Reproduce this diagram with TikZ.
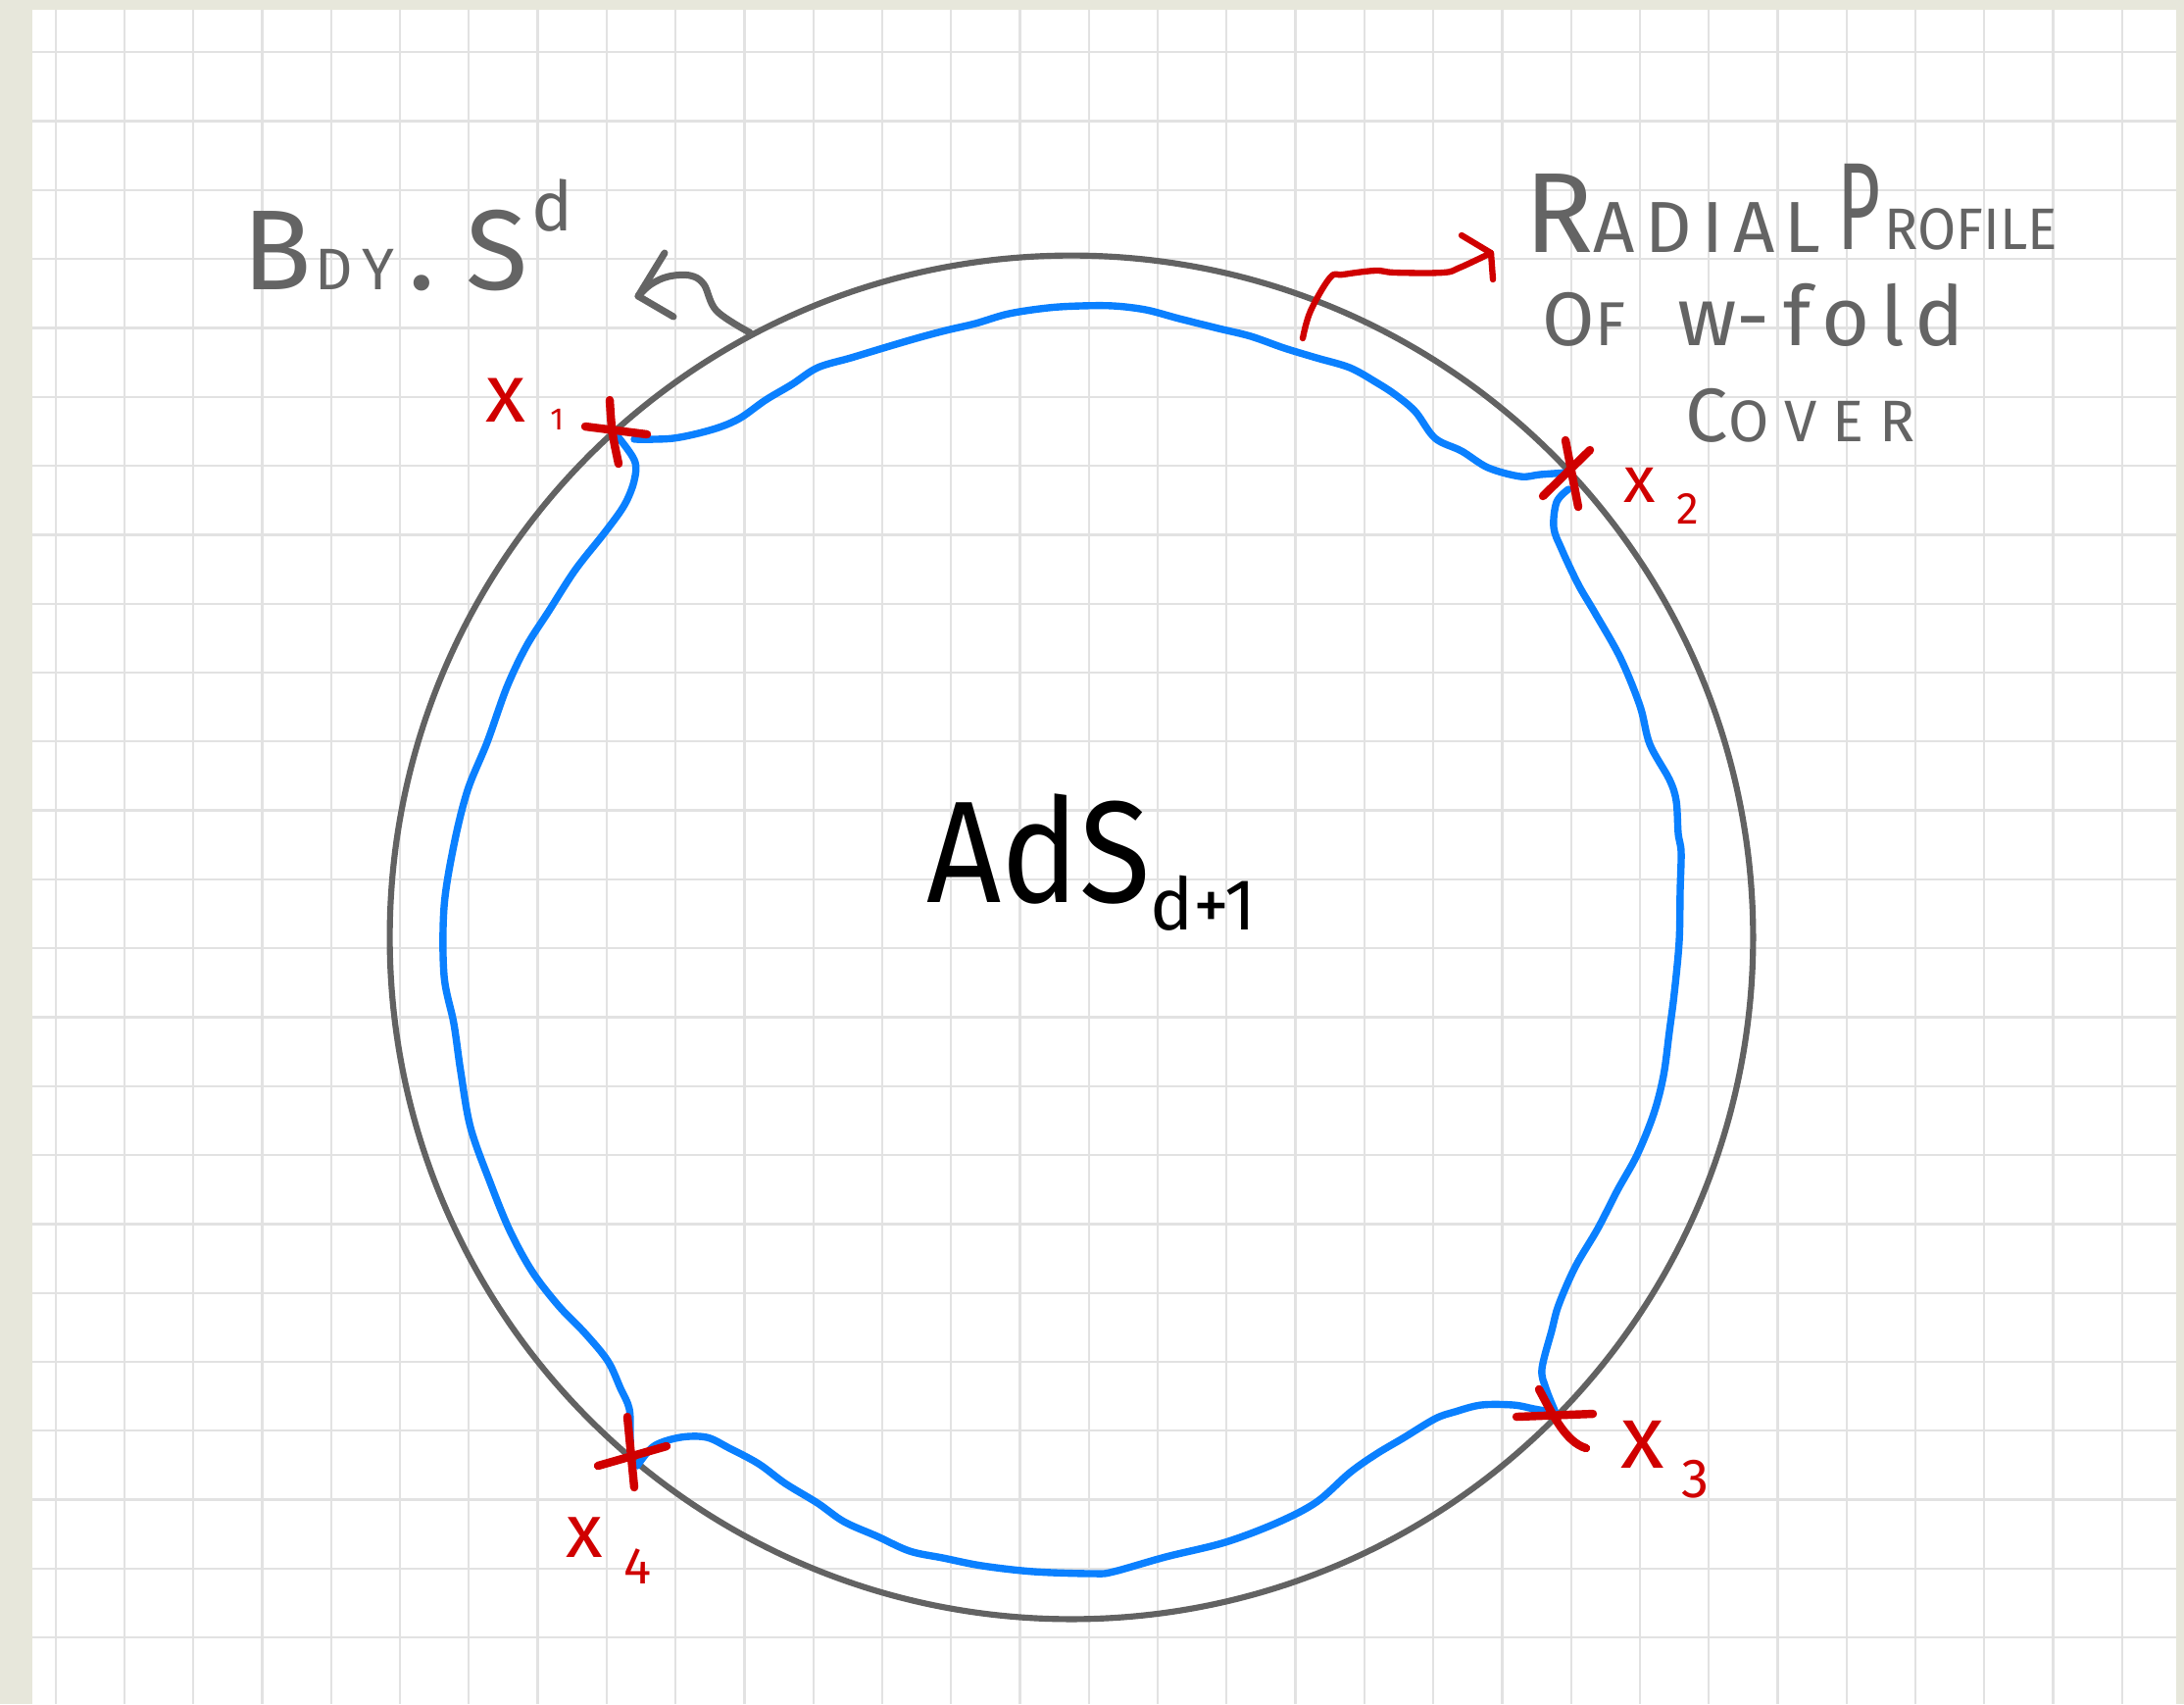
\documentclass[tikz,border=0pt]{standalone}
\usepackage{fontspec}
\setmainfont{Fira Sans}
\definecolor{bgbeige}{RGB}{231,231,219}
\definecolor{gridc}{RGB}{226,226,226}
\definecolor{circg}{RGB}{98,98,98}
\definecolor{inkg}{RGB}{100,100,100}
\definecolor{inkr}{RGB}{208,0,0}
\definecolor{inkb}{RGB}{10,128,255}
\newcommand\myfs[1]{\fontsize{#1}{#1}\selectfont}
\begin{document}
\begin{tikzpicture}[x=0.01cm,y=-0.01cm,
  gridline/.style={draw=gridc,line width=0.65pt},
  circline/.style={draw=circg,line width=1.75pt},
  blueline/.style={draw=inkb,line width=2.1pt,line cap=round,line join=round},
  redline/.style={draw=inkr,line width=2.4pt,line cap=round,line join=round},
  redarrow/.style={draw=inkr,line width=1.8pt,line cap=round,line join=round},
  grayarrow/.style={draw=inkg,line width=2pt,line cap=round,line join=round},
  lblg/.style={text=inkg,inner sep=0pt,anchor=base west},
  lblr/.style={text=inkr,inner sep=0pt,anchor=base west},
  lblk/.style={text=black,inner sep=0pt,anchor=base west}]
\useasboundingbox (0,0) rectangle (2228,1738);
% paper
\fill[bgbeige] (0,0) rectangle (2228,1738);
\fill[white] (33,10) rectangle (2220,1738);
\foreach \k in {0,...,30} \draw[gridline] ({56.7+70.27*\k},10) -- ({56.7+70.27*\k},1738);
\foreach \k in {0,...,23} \draw[gridline] (33,{53.3+70.3*\k}) -- (2220,{53.3+70.3*\k});

% boundary circle
\node (circ) [circle, circline, minimum size=13.9cm, inner sep=0pt] at (1093,956) {};

% insertion points
\coordinate (x1) at (626,440);
\coordinate (x2) at (1599,482);
\coordinate (x3) at (1587,1441);
\coordinate (x4) at (643,1487);

% blue profile
\draw[blueline] plot[smooth,tension=0.55] coordinates {(647,448) (687,447) (727,438) (754,427) (781,408) (808,392) (834,375) (868,365) (901,355) (935,345) (965,337) (995,330) (1029,320) (1069,314) (1102,312) (1136,312) (1169,316) (1203,325) (1243,335) (1276,343) (1310,355) (1343,365) (1377,375) (1404,390) (1424,403) (1444,420) (1464,447) (1491,460) (1518,477) (1551,486) (1571,484) (x2)};
\draw[blueline] plot[smooth,tension=0.55] coordinates {(1600,499) (1588,512) (1585,538) (1593,560) (1610,596) (1627,625) (1653,671) (1673,720) (1683,759) (1703,795) (1710,817) (1712,850) (1715,869) (1714,908) (1713,960) (1708,1013) (1703,1052) (1697,1097) (1687,1136) (1670,1178) (1650,1214) (1630,1253) (1607,1292) (1590,1331) (1583,1357) (1573,1396) (1577,1416) (x3)};
\draw[blueline] plot[smooth,tension=0.55] coordinates {(x3) (1565,1437) (1544,1433) (1511,1433) (1484,1440) (1464,1447) (1431,1467) (1404,1483) (1377,1502) (1343,1532) (1303,1553) (1250,1573) (1189,1588) (1136,1603) (1116,1605) (1055,1603) (1002,1597) (962,1589) (928,1582) (895,1567) (861,1552) (834,1533) (801,1513) (774,1493) (744,1477) (721,1466) (694,1466) (667,1475) (650,1495)};
\draw[blueline] plot[smooth,tension=0.55] coordinates {(x1) (647,469) (647,490) (637,515) (617,543) (587,581) (560,623) (537,659) (517,701) (497,757) (477,806) (463,862) (453,925) (453,995) (463,1044) (470,1093) (480,1150) (500,1206) (520,1255) (543,1297) (570,1332) (597,1360) (620,1388) (633,1416) (642,1437) (643,1465) (x4)};

% red crosses
\draw[redline,shift={(x1)}] (-29,-5) -- (34,3) (-4,-32) .. controls (-2,0) .. (5,33);
\draw[redline,shift={(x2)}] (-2,-33) -- (11,35) (23,-23) -- (-25,24);
\draw[redline,shift={(x3)}] (-40,4) -- (38,1) (-17,-24) .. controls (-4,0) and (10,30) .. (31,36);
\draw[redline,shift={(x4)}] (-33,8) -- (37,-12) (-3,-42) -- (4,30);

% labels
\node[lblg] (bdy) at (247,295) {\myfs{33pt}B\hspace{1pt}\myfs{17pt}D\hspace{2.5pt}Y\hspace{4pt}\myfs{33pt}.\hspace{9pt}S\hspace{1pt}\raisebox{17pt}{\myfs{20pt}d}};
\node[lblg] (rad) at (1555,257) {\myfs{33pt}R\myfs{21pt}A\hspace{2.9pt}D\hspace{2.9pt}I\hspace{2.9pt}A\hspace{2.9pt}L};
\node[lblg] (prof) at (1874,254) {\myfs{36pt}\scalebox{0.6}[1]{P}\hspace{1pt}\myfs{17pt}\scalebox{0.95}[1]{ROFILE}};
\node[lblg] (of) at (1573,352) {\myfs{22pt}O\myfs{18pt}F\hspace{15pt}\myfs{24pt}w-\hspace{4pt}f\hspace{3pt}o\hspace{3pt}l\hspace{3pt}d};
\node[lblg] (cov) at (1719,450) {\myfs{22pt}C\myfs{17pt}O\hspace{4.5pt}V\hspace{4.5pt}E\hspace{4.5pt}R};
\node[lblk] (ads) at (945,920) {\myfs{42pt}\scalebox{0.9}[1]{AdS}\raisebox{-8pt}{\myfs{21pt}d+1}};
\node[lblr] (lx1) at (495,430) {\myfs{24pt}x\hspace{7pt}\raisebox{-2.3pt}{\myfs{9pt}1}};
\node[lblr] (lx2) at (1656,512) {\myfs{19pt}x\hspace{6pt}\raisebox{-6.3pt}{\myfs{13pt}2}};
\node[lblr] (lx3) at (1653,1497) {\myfs{26pt}x\hspace{5pt}\raisebox{-8.8pt}{\myfs{16pt}3}};
\node[lblr] (lx4) at (577,1588) {\myfs{22pt}x\hspace{6pt}\raisebox{-7.7pt}{\myfs{15pt}4}};

% arrows
\coordinate (gtip) at (651,302);
\draw[grayarrow] plot[smooth,tension=0.6] coordinates {(circ.118) (731,317) (718,290) (704,281) (682,282) (664,290) (gtip)};
\draw[grayarrow] (678,258) -- (gtip) -- (687,323);
\coordinate (rstart) at (1329,345);
\coordinate (rtip) at (1521,258);
\draw[redarrow] plot[smooth,tension=0.6] coordinates {(rstart) (1337,317) (1357,283) (1370,280) (1403,276) (1423,278) (1472,278) (1489,273) (rtip)};
\draw[redarrow] (1491,240) -- (rtip) -- (1523,285);
\end{tikzpicture}
\end{document}
